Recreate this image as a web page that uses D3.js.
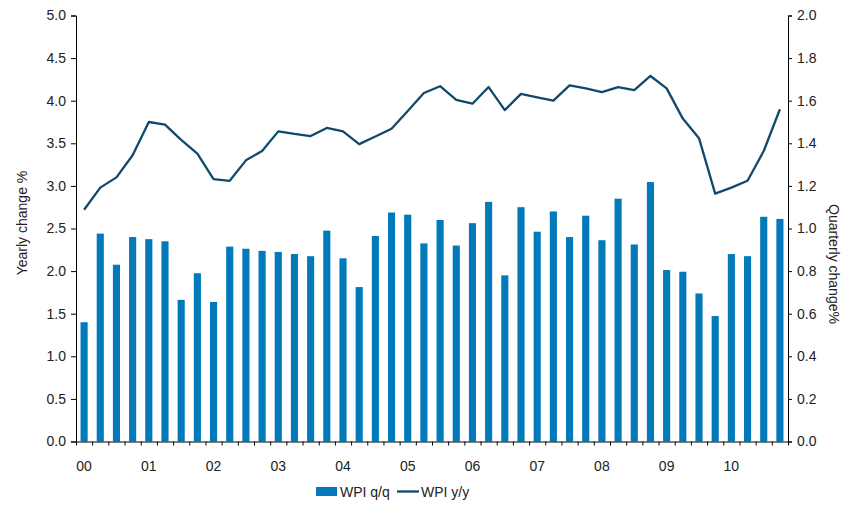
<!DOCTYPE html>
<html>
<head>
<meta charset="utf-8">
<script src="https://cdn.jsdelivr.net/npm/d3@7"></script>
<style>
  body { margin: 0; background: #fff; }
  text { font-family: "Liberation Sans", Arial, sans-serif; fill: #222; }
</style>
</head>
<body>
<figure id="chart" style="margin:0"></figure>
<script>
// quarters 2000Q1 .. 2010Q4
const years = ["00","01","02","03","04","05","06","07","08","09","10"];
const quarters = years.flatMap(y => ["Q1","Q2","Q3","Q4"].map(q => y + q));

// WPI q/q (right axis, %)
const wpiQQ = [0.56,0.976,0.83,0.96, 0.95,0.94,0.665,0.79, 0.655,0.915,0.905,0.895,
  0.89,0.88,0.87,0.99, 0.86,0.725,0.965,1.075, 1.065,0.93,1.04,0.92,
  1.025,1.125,0.78,1.10, 0.985,1.08,0.96,1.06, 0.945,1.14,0.925,1.218,
  0.805,0.797,0.695,0.589, 0.88,0.87,1.055,1.045];

// WPI y/y (left axis, %)
const wpiYY = [2.72,2.98,3.10,3.36, 3.75,3.72,3.54,3.38, 3.08,3.06,3.30,3.41,
  3.64,3.61,3.585,3.68, 3.64,3.49,3.58,3.67, 3.88,4.09,4.17,4.01,
  3.965,4.16,3.89,4.08, 4.04,4.00,4.18,4.145, 4.10,4.16,4.125,4.29,
  4.145,3.79,3.56,2.91, 2.98,3.06,3.41,3.90];

const leftTicks = [0,0.5,1,1.5,2,2.5,3,3.5,4,4.5,5];
const rightTicks = [0,0.2,0.4,0.6,0.8,1,1.2,1.4,1.6,1.8,2];

const W = 845, H = 505;
const L = 76, R = 788, T = 15.5, B = 441.5;

const svg = d3.select("#chart").append("svg")
  .attr("width", W).attr("height", H);

const x = d3.scaleBand().domain(quarters).range([L, R])
  .paddingInner(0.56).paddingOuter(0.28);
const xq = d3.scaleLinear().domain([0, quarters.length]).range([L, R]);
const yL = d3.scaleLinear().domain([0, 5]).range([B, T]);
const yR = d3.scaleLinear().domain([0, 2]).range([B, T]);

// bars
svg.append("g").selectAll("rect")
  .data(quarters)
  .enter().append("rect")
  .attr("x", d => x(d))
  .attr("y", (d, i) => yR(wpiQQ[i]))
  .attr("width", x.bandwidth())
  .attr("height", (d, i) => B - yR(wpiQQ[i]))
  .attr("fill", "#0279b9");

// line
const line = d3.line()
  .x((d, i) => x(quarters[i]) + x.bandwidth() / 2)
  .y(d => yL(d));
svg.append("path")
  .datum(wpiYY)
  .attr("d", line)
  .attr("fill", "none")
  .attr("stroke", "#0f4a6c")
  .attr("stroke-width", 2.3)
  .attr("stroke-linejoin", "round");

// left axis
const gL = svg.append("g")
  .attr("transform", `translate(${L},0)`)
  .call(d3.axisLeft(yL).tickValues(leftTicks).tickFormat(d3.format(".1f")).tickSize(5).tickPadding(5));

// right axis
const gR = svg.append("g")
  .attr("transform", `translate(${R},0)`)
  .call(d3.axisRight(yR).tickValues(rightTicks).tickFormat(d3.format(".1f")).tickSize(4).tickPadding(5));

// bottom axis: quarter tick marks
const gB = svg.append("g")
  .attr("transform", `translate(0,${B})`)
  .call(d3.axisBottom(xq).tickValues(d3.range(quarters.length + 1)).tickFormat("").tickSize(4).tickSizeOuter(0));

// year labels
svg.append("g").selectAll("text")
  .data(years)
  .enter().append("text")
  .attr("x", d => x(d + "Q1") + x.bandwidth() / 2)
  .attr("y", 471)
  .attr("text-anchor", "middle")
  .style("font-size", "14px")
  .text(d => d);

[gL, gR, gB].forEach(g => {
  g.select(".domain").attr("stroke", "#000");
  g.selectAll(".tick line").attr("stroke", "#000");
  g.selectAll("text").style("font-size", "14px").attr("fill", "#222")
    .style("font-family", "'Liberation Sans', Arial, sans-serif");
});

// axis titles
svg.append("text")
  .attr("transform", "translate(27,223) rotate(-90)")
  .attr("text-anchor", "middle")
  .style("font-size", "14px")
  .text("Yearly change %");
svg.append("text")
  .attr("transform", "translate(829,264) rotate(90)")
  .attr("text-anchor", "middle")
  .style("font-size", "14px")
  .text("Quarterly change%");

// legend
const lg = svg.append("g");
lg.append("rect").attr("x", 316).attr("y", 487).attr("width", 21).attr("height", 9).attr("fill", "#0279b9");
lg.append("text").attr("x", 340).attr("y", 497).style("font-size", "14px").text("WPI q/q");
lg.append("line").attr("x1", 397).attr("x2", 419).attr("y1", 491.5).attr("y2", 491.5)
  .attr("stroke", "#0f4a6c").attr("stroke-width", 2.3);
lg.append("text").attr("x", 421).attr("y", 497).style("font-size", "14px").text("WPI y/y");
</script>
</body>
</html>
